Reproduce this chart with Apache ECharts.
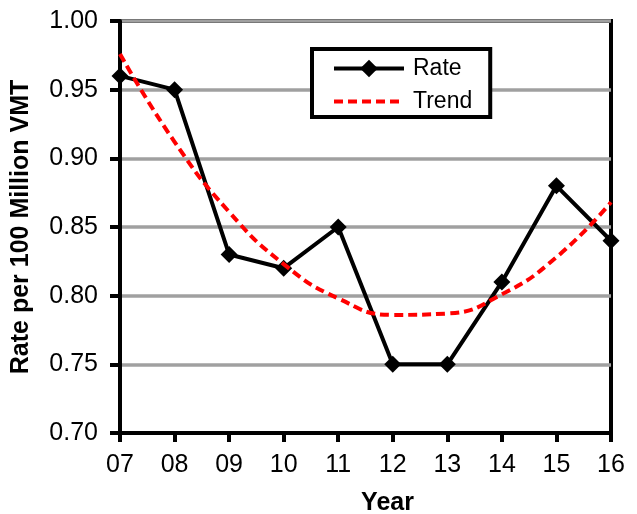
<!DOCTYPE html>
<html><head><meta charset="utf-8">
<script src="https://cdn.jsdelivr.net/npm/echarts@6/dist/echarts.min.js"></script>
<style>html,body{margin:0;padding:0;background:#fff}#c{width:637px;height:514px}</style>
</head><body><div id="c"></div>
<script>
const years = ['07','08','09','10','11','12','13','14','15','16'];
const rate = [0.96, 0.95, 0.83, 0.82, 0.85, 0.75, 0.75, 0.81, 0.88, 0.84];
const trend = [0.976, 0.912, 0.861, 0.823, 0.798, 0.786, 0.787, 0.801, 0.828, 0.868];
const yTicks = {min: 0.70, max: 1.00, step: 0.05};

const FONT = 'Liberation Sans, Arial, sans-serif';
const chart = echarts.init(document.getElementById('c'), null, {renderer: 'canvas'});
chart.setOption({
  animation: false,
  backgroundColor: '#fff',
  grid: {left: 120, right: 26, top: 21, bottom: 81, show: true, borderColor: '#000', borderWidth: 4,
         backgroundColor: 'transparent', containLabel: false, outerBoundsMode: 'none'},
  legend: {
    orient: 'vertical', left: 312, top: 49,
    padding: [8, 18, 4, 20], itemGap: 10,
    itemWidth: 70, itemHeight: 22,
    borderColor: '#000', borderWidth: 4, backgroundColor: '#fff',
    textStyle: {fontFamily: FONT, fontSize: 23, color: '#000', padding: [0, 0, 0, 4]},
    data: [
      {name: 'Rate', lineStyle: {width: 4}},
      {name: 'Trend', itemStyle: {opacity: 0}, lineStyle: {width: 4}}
    ]
  },
  xAxis: {
    type: 'category', data: years, boundaryGap: false,
    name: 'Year', nameLocation: 'middle', nameGap: 58,
    nameTextStyle: {fontFamily: FONT, fontSize: 25, fontWeight: 'bold', color: '#000', padding: [0, 0, 0, 44]},
    axisLine: {lineStyle: {color: '#000', width: 4}},
    axisTick: {show: true, inside: false, length: 9, alignWithLabel: true, lineStyle: {color: '#000', width: 4}},
    axisLabel: {fontFamily: FONT, fontSize: 25, color: '#000', margin: 20},
    splitLine: {show: false}
  },
  yAxis: {
    type: 'value', min: yTicks.min, max: yTicks.max, interval: yTicks.step,
    name: 'Rate per 100 Million VMT', nameLocation: 'middle', nameGap: 86, nameRotate: 90,
    nameTextStyle: {fontFamily: FONT, fontSize: 25, fontWeight: 'bold', color: '#000'},
    axisLine: {show: true, lineStyle: {color: '#000', width: 4}},
    axisTick: {show: true, inside: false, length: 10, lineStyle: {color: '#000', width: 4}},
    axisLabel: {fontFamily: FONT, fontSize: 25, color: '#000', margin: 22, formatter: v => v.toFixed(2)},
    splitLine: {show: true, lineStyle: {color: '#a0a0a0', width: 3.5}}
  },
  series: [
    {name: 'Rate', type: 'line', data: rate, z: 3,
     symbol: 'diamond', symbolSize: 17, showSymbol: true,
     itemStyle: {color: '#000'}, lineStyle: {color: '#000', width: 4}},
    {name: 'Trend', type: 'line', data: trend, smooth: true, z: 4,
     symbol: 'none', itemStyle: {color: '#ff0000'},
     lineStyle: {color: '#ff0000', width: 4, type: [9, 5]}}
  ]
});
</script></body></html>
